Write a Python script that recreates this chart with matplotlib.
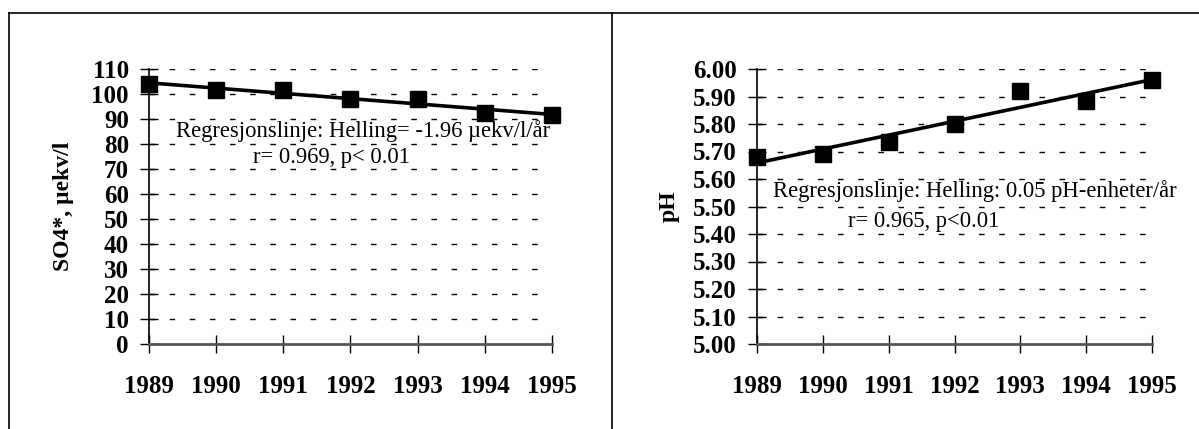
import numpy as np
import matplotlib
matplotlib.use('Agg')
import matplotlib.pyplot as plt
from matplotlib.lines import Line2D

plt.rcParams['font.family'] = 'Liberation Serif'

# data
years = [1989, 1990, 1991, 1992, 1993, 1994, 1995]
so4 = [104, 101.5, 101.5, 98, 98, 92.5, 91.5]
ph = [5.68, 5.69, 5.735, 5.80, 5.92, 5.885, 5.96]

so4_ticks = list(range(0, 111, 10))
ph_ticks = [5.00, 5.10, 5.20, 5.30, 5.40, 5.50, 5.60, 5.70, 5.80, 5.90, 6.00]

so4_text = ['Regresjonslinje: Helling= -1.96 \u00b5ekv/l/\u00e5r', 'r= 0.969, p< 0.01']
ph_text = ['Regresjonslinje: Helling: 0.05 pH-enheter/\u00e5r', 'r= 0.965, p<0.01']

fig = plt.figure(figsize=(11.99, 4.29), dpi=100)

# outer frame of the two panels
W, H = 1199, 429
top = 1 - 13 / H
for x in [9 / W, 612 / W]:
    fig.add_artist(Line2D([x, x], [0, top], color='black', lw=1.2))
fig.add_artist(Line2D([9 / W, 1], [top, top], color='black', lw=1.2))


def panel(rect, vals, yticks, fmt, ylabel, texts, text_pos, label_x):
    ax = fig.add_axes(rect)
    x = np.array(years)
    y = np.array(vals)
    k, m = np.polyfit(x, y, 1)
    ax.plot(x, k * x + m, color='black', lw=2.6, clip_on=False, zorder=3)
    ax.plot(x, y, 's', color='black', ms=11, clip_on=False, zorder=4)

    ax.set_xlim(years[0], years[-1])
    ax.set_ylim(yticks[0], yticks[-1])
    ax.set_xticks(years)
    ax.set_yticks(yticks)
    ax.set_yticklabels([fmt.format(t) for t in yticks])
    for t in yticks[1:]:
        ax.axhline(t, color='black', lw=1, ls=(0, (4, 10.5)), zorder=1)

    for s in ['top', 'right']:
        ax.spines[s].set_visible(False)
    ax.spines['left'].set_linewidth(1.2)
    ax.spines['bottom'].set_linewidth(2)
    ax.spines['bottom'].set_color('#555555')
    ax.tick_params(direction='inout', length=13, width=1, labelsize=18, pad=8)
    ax.tick_params(axis='x', pad=16)
    for lab in ax.get_xticklabels() + ax.get_yticklabels():
        lab.set_fontweight('bold')

    fig.text(label_x, 0.52, ylabel, rotation=90, ha='center', va='center',
             fontsize=17, fontweight='bold')
    for txt, (tx, ty) in zip(texts, text_pos):
        ax.text(tx, ty, txt, ha='left', va='center', fontsize=16.3, zorder=5)
    return ax


panel([149 / W, 1 - 344 / H, 403 / W, 275 / H], so4, so4_ticks, '{:d}',
      'SO4*, \u00b5ekv/l', so4_text, [(1989.4, 85), (1990.55, 74.5)], 64 / W)
panel([757 / W, 1 - 344 / H, 395 / W, 275 / H], ph, ph_ticks, '{:.2f}',
      'pH', ph_text, [(1989.24, 5.555), (1990.38, 5.445)], 669 / W)

fig.savefig('out.png', dpi=100)
